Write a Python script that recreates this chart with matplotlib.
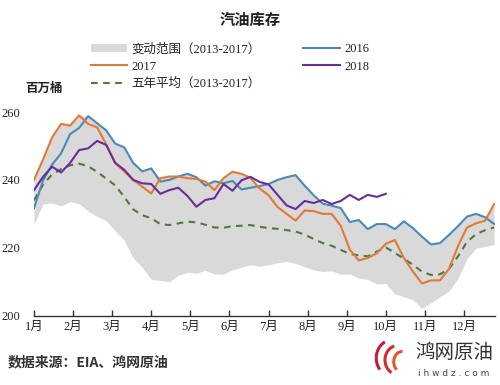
import matplotlib
matplotlib.use("Agg")
import matplotlib.pyplot as plt
import numpy as np
from matplotlib.patches import Patch, Arc
from matplotlib.lines import Line2D

plt.rcParams['font.family'] = ['Liberation Serif', 'Noto Sans CJK SC', 'DejaVu Sans']

weeks = list(range(52))
months = ["1月", "2月", "3月", "4月", "5月", "6月", "7月", "8月", "9月", "10月", "11月", "12月"]

y2016 = [231.7, 239.8, 244.5, 247.8, 253.5, 255.3, 258.8, 256.7, 254.6, 250.7,
         249.6, 245.0, 242.5, 243.4, 239.5, 240.0, 241.0, 241.8, 240.8, 238.3,
         239.6, 239.0, 239.7, 237.2, 237.7, 238.2, 238.8, 240.0, 240.8, 241.4,
         238.3, 235.5, 233.0, 232.4, 231.7, 227.6, 228.2, 225.5, 227.0, 227.0,
         225.5, 227.8, 225.8, 223.3, 221.0, 221.4, 223.8, 226.4, 229.2, 230.0,
         229.0, 227.0]
y2017 = [240.0, 246.0, 252.5, 256.5, 256.0, 259.0, 256.5, 255.5, 250.5, 245.0,
         242.5, 240.0, 238.0, 236.0, 240.5, 241.0, 241.0, 240.5, 240.3, 239.5,
         237.0, 240.5, 242.4, 241.8, 240.6, 237.5, 235.5, 232.0, 230.0, 228.0,
         231.0, 230.8, 230.0, 230.0, 226.5, 219.5, 216.3, 217.0, 218.4, 221.2,
         222.3, 217.0, 213.0, 209.5, 210.4, 210.4, 213.8, 220.5, 226.0, 227.2,
         228.0, 232.9]
y2018 = [237.0, 240.9, 243.9, 242.2, 245.0, 248.8, 249.3, 251.5, 250.3, 245.0,
         243.0, 240.0, 239.0, 238.8, 235.9, 237.0, 237.7, 235.3, 232.1, 234.1,
         234.6, 238.8, 236.8, 239.9, 240.9, 239.4, 238.7, 235.6, 232.5, 231.4,
         233.8, 233.2, 234.1, 232.9, 233.8, 235.6, 234.1, 235.6, 235.0, 235.9]
avg5 = [234.0, 238.6, 241.6, 243.2, 244.3, 244.8, 244.0, 242.4, 240.4, 238.4,
        235.0, 231.3, 229.6, 228.7, 227.0, 226.7, 227.2, 227.7, 227.5, 226.8,
        226.0, 225.9, 226.4, 226.5, 226.7, 226.2, 225.8, 225.6, 225.2, 224.8,
        223.9, 222.6, 221.4, 220.6, 219.4, 218.2, 217.8, 217.5, 218.9, 220.1,
        218.5, 216.8, 215.0, 213.0, 212.0, 212.2, 213.8, 217.5, 221.8, 224.0,
        225.2, 226.0]
band_low = [227.0, 232.9, 233.2, 232.4, 233.6, 233.0, 230.8, 229.2, 228.0, 225.0,
            222.2, 217.0, 214.3, 210.7, 210.4, 210.0, 211.9, 212.8, 212.5, 213.4,
            212.3, 212.2, 213.5, 214.3, 215.0, 214.6, 215.0, 215.6, 216.0, 215.4,
            214.4, 213.5, 213.0, 213.2, 212.2, 212.2, 211.1, 210.7, 209.3, 209.5,
            206.4, 205.6, 204.7, 202.2, 203.8, 205.6, 207.3, 211.0, 216.8, 219.9,
            220.4, 221.0]
band_high = [240.0, 246.0, 252.5, 256.5, 256.0, 259.0, 258.8, 256.7, 254.6, 250.7,
             249.6, 245.0, 242.5, 243.4, 240.5, 241.0, 241.0, 241.8, 240.8, 239.5,
             239.6, 240.5, 242.4, 241.8, 240.6, 238.2, 238.8, 240.0, 240.8, 241.4,
             238.3, 235.5, 233.0, 232.4, 231.7, 227.6, 228.2, 225.5, 227.0, 227.0,
             225.5, 227.8, 225.8, 223.3, 221.0, 221.4, 223.8, 226.4, 229.2, 230.0,
             229.0, 232.9]

c_band = "#d9d9d9"
c16 = "#4a89b8"
c17 = "#e07a35"
c18 = "#6a2d98"
cavg = "#4e7a3c"

fig = plt.figure(figsize=(5.0, 3.85), dpi=100)
ax = fig.add_axes([0.068, 0.18, 0.922, 0.529])

ax.fill_between(weeks, band_low, band_high, color=c_band, lw=0, zorder=1)
ax.plot(weeks, y2016, color=c16, lw=1.5, zorder=3)
ax.plot(weeks, y2017, color=c17, lw=1.5, zorder=4)
ax.plot(weeks[:len(y2018)], y2018, color=c18, lw=1.5, zorder=5)
ax.plot(weeks, avg5, color=cavg, lw=1.5, ls=(0, (3.2, 2.6)), zorder=2)

ax.set_xlim(0, 51.1)
ax.set_ylim(200, 260)
ax.set_yticks([200, 220, 240, 260])
ax.set_xticks([i * 52 / 12 for i in range(12)])
ax.set_xticklabels(months, fontsize=9)
ax.tick_params(axis='y', length=0, labelsize=9, pad=10, colors='#222222')
ax.tick_params(axis='x', direction='in', length=4, width=1, color='#333333', labelsize=9, pad=4, labelcolor='#222222')
for s in ['top', 'right', 'left']:
    ax.spines[s].set_visible(False)
ax.spines['bottom'].set_color('#333333')
ax.spines['bottom'].set_linewidth(1.0)

handles = [
    Patch(facecolor=c_band, edgecolor='none'),
    Line2D([], [], color=c17, lw=1.5),
    Line2D([], [], color=cavg, lw=1.5, ls=(0, (3.2, 2.6))),
    Line2D([], [], color=c16, lw=1.5),
    Line2D([], [], color=c18, lw=1.5),
]
labels = ["变动范围（2013-2017）", "2017", "五年平均（2013-2017）", "2016", "2018"]
fig.legend(handles, labels, ncol=2, loc='upper left', bbox_to_anchor=(0.182, 1 - 43 / 385),
           frameon=False, fontsize=9, handlelength=2.9, handletextpad=0.35,
           columnspacing=3.4, labelspacing=0.42, borderpad=0, borderaxespad=0,
           labelcolor='#222222')

fig.text(0.5, 1 - 20 / 385, "汽油库存", ha='center', va='center', fontsize=11,
         fontweight='bold', family=['Noto Sans CJK SC'], color='#222222')
fig.text(0.05, 1 - 88 / 385, "百万桶", ha='left', va='center', fontsize=9,
         family=['Noto Sans CJK SC'], color='#222222', fontweight='bold')
fig.text(0.016, 1 - 362 / 385, "数据来源：EIA、鸿网原油", ha='left', va='center', fontsize=10,
         family=['Noto Sans CJK SC'], color='#333333', fontweight='bold')
fig.text(0.908, 1 - 352 / 385, "鸿网原油", ha='center', va='center', fontsize=14,
         family=['Noto Sans CJK SC'], color='#333333')
fig.text(0.908, 1 - 373 / 385, "i h w d z . c o m", ha='center', va='center', fontsize=6.5,
         family=['DejaVu Sans'], color='#444444')

# simple logo swooshes
for (cx, cy, w, h, t1, t2, col) in [(0.795, 0.065, 0.05, 0.075, 100, 250, '#d92a2a'),
                                   (0.805, 0.06, 0.035, 0.055, 90, 240, '#e8552c'),
                                   (0.785, 0.07, 0.065, 0.095, 110, 230, '#c41f3a')]:
    fig.add_artist(Arc((cx, cy), w, h, theta1=t1, theta2=t2, color=col, lw=2.2,
                       transform=fig.transFigure))

fig.savefig("out.png", dpi=100, facecolor='white')
